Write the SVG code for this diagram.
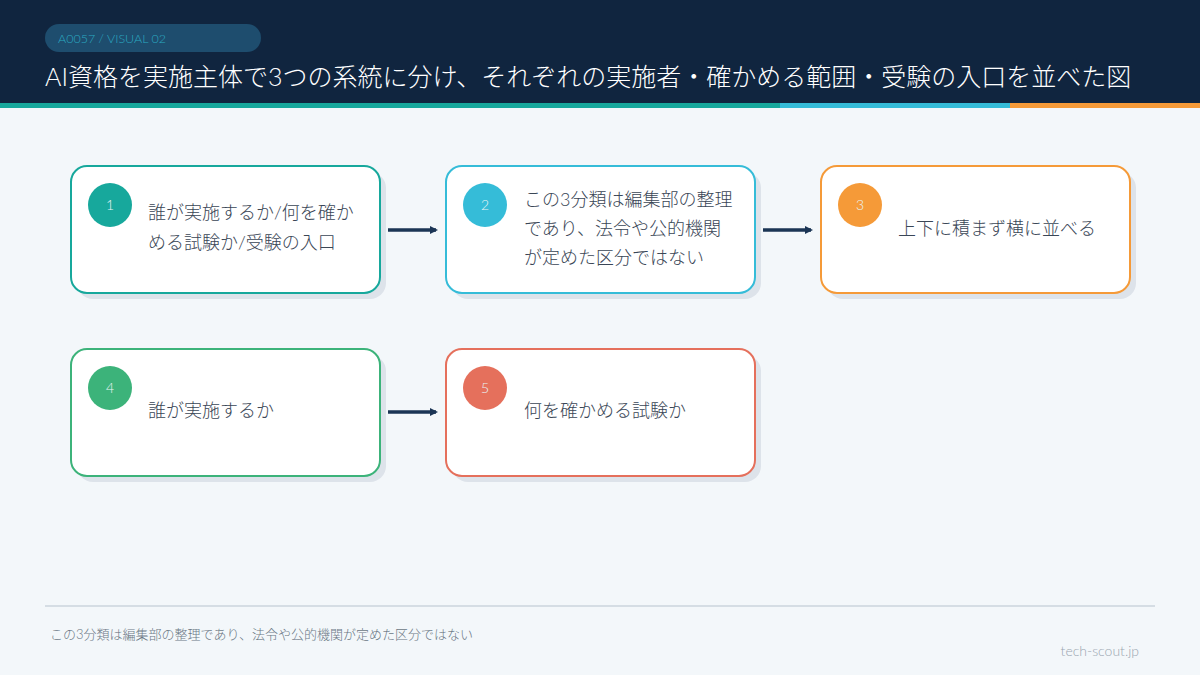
<svg xmlns="http://www.w3.org/2000/svg" width="1200" height="675" viewBox="0 0 1200 675">
<style>
text{font-family:Lato,"Noto Sans CJK JP",sans-serif;font-weight:300}
.card{fill:#fff;stroke-width:2}
.sh{fill:#dde3ea}
.t{font-size:18px;fill:#3a4656}
.n{font-size:14px;fill:#e8f4f4;text-anchor:middle}
.c{stroke:#1b3555;stroke-width:3.5;fill:none}
</style>
<defs><marker id="ah" markerWidth="8" markerHeight="8" refX="6" refY="4" orient="auto" markerUnits="userSpaceOnUse"><path d="M0,0L8,4L0,8z" fill="#1b3555"/></marker></defs>
<rect width="1200" height="675" fill="#f3f7fa"/>
<rect width="1200" height="103" fill="#10253f"/>
<rect y="103" width="780" height="5" fill="#17a89c"/>
<rect x="780" y="103" width="230" height="5" fill="#35bcd8"/>
<rect x="1010" y="103" width="190" height="5" fill="#f59a38"/>
<rect x="45" y="24" width="216" height="28" rx="14" fill="#1e4d6e"/>
<text x="58" y="43" font-size="12.5" fill="#2aa8c0">A0057 / VISUAL 02</text>
<text x="45" y="86" font-size="25" fill="#fff">AI資格を実施主体で3つの系統に分け、それぞれの実施者・確かめる範囲・受験の入口を並べた図</text>
<g id="connectors">
<line class="c" x1="388" y1="230" x2="436" y2="230" marker-end="url(#ah)"/>
<line class="c" x1="763" y1="230" x2="811" y2="230" marker-end="url(#ah)"/>
<line class="c" x1="388" y1="412" x2="436" y2="412" marker-end="url(#ah)"/>
</g>
<g id="node1"><rect class="sh" x="77" y="172" width="309" height="127" rx="16"/><rect class="card" x="71" y="166" width="309" height="127" rx="16" stroke="#17a89c"/><circle cx="110" cy="205" r="22" fill="#17a89c"/><text class="n" x="110" y="210">1</text><text class="t" x="148" y="219">誰が実施するか/何を確か</text><text class="t" x="148" y="249">める試験か/受験の入口</text></g>
<g id="node2"><rect class="sh" x="452" y="172" width="309" height="127" rx="16"/><rect class="card" x="446" y="166" width="309" height="127" rx="16" stroke="#35bcd8"/><circle cx="485" cy="205" r="22" fill="#35bcd8"/><text class="n" x="485" y="210">2</text><text class="t" x="524" y="206">この3分類は編集部の整理</text><text class="t" x="524" y="235">であり、法令や公的機関</text><text class="t" x="524" y="264">が定めた区分ではない</text></g>
<g id="node3"><rect class="sh" x="827" y="172" width="309" height="127" rx="16"/><rect class="card" x="821" y="166" width="309" height="127" rx="16" stroke="#f59a38"/><circle cx="860" cy="205" r="22" fill="#f59a38"/><text class="n" x="860" y="210">3</text><text class="t" x="898" y="235">上下に積まず横に並べる</text></g>
<g id="node4"><rect class="sh" x="77" y="355" width="309" height="127" rx="16"/><rect class="card" x="71" y="349" width="309" height="127" rx="16" stroke="#3cb37a"/><circle cx="110" cy="388" r="22" fill="#3cb37a"/><text class="n" x="110" y="393">4</text><text class="t" x="148" y="417">誰が実施するか</text></g>
<g id="node5"><rect class="sh" x="452" y="355" width="309" height="127" rx="16"/><rect class="card" x="446" y="349" width="309" height="127" rx="16" stroke="#e5705c"/><circle cx="485" cy="388" r="22" fill="#e5705c"/><text class="n" x="485" y="393">5</text><text class="t" x="524" y="417">何を確かめる試験か</text></g>
<line x1="45" y1="606" x2="1155" y2="606" stroke="#d5dde4" stroke-width="2"/>
<text x="50" y="639" font-size="13" fill="#6b7785">この3分類は編集部の整理であり、法令や公的機関が定めた区分ではない</text>
<text x="1139" y="656" font-size="14" fill="#9aa5b0" text-anchor="end">tech-scout.jp</text>
</svg>
